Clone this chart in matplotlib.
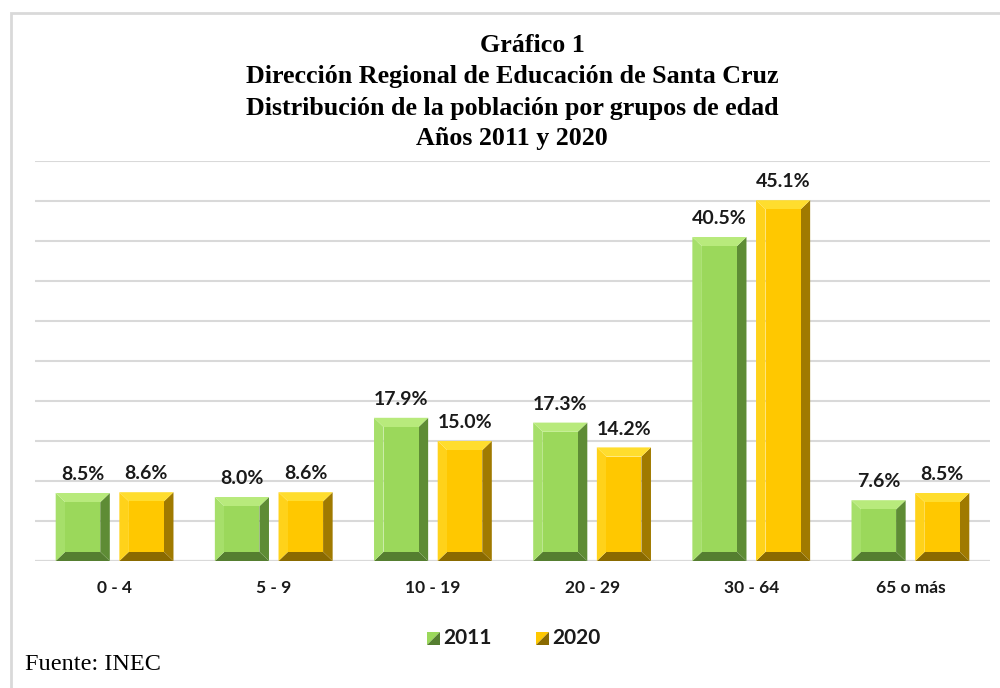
import numpy as np
import matplotlib.pyplot as plt
import matplotlib.patches as patches

# Data
groups = ["0 - 4", "5 - 9", "10 - 19", "20 - 29", "30 - 64", "65 o más"]
pct_2011 = [8.5, 8.0, 17.9, 17.3, 40.5, 7.6]
pct_2020 = [8.6, 8.6, 15.0, 14.2, 45.1, 8.5]
series_names = ["2011", "2020"]

# bevel colours: face, top, left, right, bottom
green = {"face": "#9BD85B", "top": "#B8EA7C", "left": "#A6DF6A", "right": "#5E8C35", "bottom": "#557E30"}
gold = {"face": "#FFC800", "top": "#FFDD2E", "left": "#FFD21A", "right": "#A07A00", "bottom": "#8A6A00"}

BAR_W = 0.34
OFFSET = 0.2
BEVEL_X = 0.06    # in category units (~9 px)
BEVEL_Y = 1.15    # in percent (~9 px)

label_font = "Lato"
title_font = "Liberation Serif"

fig = plt.figure(figsize=(10, 6.88), dpi=100)
ax = fig.add_axes([0.035, 1 - 561 / 688, 0.955, 400 / 688])


def bevel_bar(ax, xc, h, col):
    x0, x1 = xc - BAR_W / 2, xc + BAR_W / 2
    bx, by = BEVEL_X, min(BEVEL_Y, h / 4)
    ax.add_patch(patches.Polygon([(x0, 0), (x1, 0), (x1 - bx, by), (x0 + bx, by)],
                                 closed=True, facecolor=col["bottom"], edgecolor="none"))
    ax.add_patch(patches.Polygon([(x1, 0), (x1, h), (x1 - bx, h - by), (x1 - bx, by)],
                                 closed=True, facecolor=col["right"], edgecolor="none"))
    ax.add_patch(patches.Polygon([(x0, 0), (x0, h), (x0 + bx, h - by), (x0 + bx, by)],
                                 closed=True, facecolor=col["left"], edgecolor="none"))
    ax.add_patch(patches.Polygon([(x0, h), (x1, h), (x1 - bx, h - by), (x0 + bx, h - by)],
                                 closed=True, facecolor=col["top"], edgecolor="none"))
    ax.add_patch(patches.Rectangle((x0 + bx, by), BAR_W - 2 * bx, h - 2 * by,
                                   facecolor=col["face"], edgecolor="none"))
    ax.annotate(f"{h:.1f}%", (xc, h), xytext=(0, 7), textcoords="offset points",
                ha="center", va="bottom", fontsize=14, fontweight="bold",
                family=label_font, color="#1a1a1a")


x = np.arange(len(groups))
for i in x:
    bevel_bar(ax, i - OFFSET, pct_2011[i], green)
    bevel_bar(ax, i + OFFSET, pct_2020[i], gold)

ax.set_xlim(-0.5, len(groups) - 0.5)
ax.set_ylim(0, 50)
ax.set_yticks(np.arange(0, 51, 5))
ax.yaxis.grid(True, color="#D9D9D9", linewidth=1.5)
ax.set_axisbelow(True)
ax.tick_params(axis="y", left=False, labelleft=False)
ax.set_xticks(x)
ax.set_xticklabels(groups, fontsize=12.5, fontweight="bold", family=label_font, color="#1a1a1a")
ax.tick_params(axis="x", length=0, pad=14)
for s in ax.spines.values():
    s.set_visible(False)
ax.axhline(0, color="#D0D0D0", linewidth=1.5, zorder=0)

# title (first line sits a little right of centre in the original)
title_lines = ["Gráfico 1",
               "Dirección Regional de Educación de Santa Cruz",
               "Distribución de la población por grupos de edad",
               "Años 2011 y 2020"]
title_x = [0.532, 0.512, 0.512, 0.512]
for k, line in enumerate(title_lines):
    fig.text(title_x[k], 1 - (46 + 31 * k) / 688, line, ha="center", va="center",
             fontsize=18.7, fontweight="bold", family=title_font)

# legend drawn by hand
legend_items = [(427, green), (536, gold)]
for (px, col), name in zip(legend_items, series_names):
    x0, x1 = px / 1000, (px + 13) / 1000
    y0, y1 = 1 - 645 / 688, 1 - 632 / 688
    fig.patches.append(patches.Polygon([(x0, y0), (x0, y1), (x1, y1)], closed=True,
                                       facecolor=col["face"], edgecolor="none",
                                       transform=fig.transFigure))
    fig.patches.append(patches.Polygon([(x0, y0), (x1, y0), (x1, y1)], closed=True,
                                       facecolor=col["bottom"], edgecolor="none",
                                       transform=fig.transFigure))
    fig.text((px + 16) / 1000, 1 - 638 / 688, name, ha="left", va="center",
             fontsize=15, fontweight="bold", family=label_font, color="#1a1a1a")

fig.text(0.025, 1 - 664 / 688, "Fuente: INEC", ha="left", va="center",
         fontsize=17.5, family=title_font)

# outer chart frame
fig.patches.append(patches.Rectangle((0.011, -0.05), 1.1, 1 - 13 / 688 + 0.05,
                                     facecolor="none", edgecolor="#D9D9D9", linewidth=2,
                                     transform=fig.transFigure))

fig.savefig("out.png", dpi=100)
